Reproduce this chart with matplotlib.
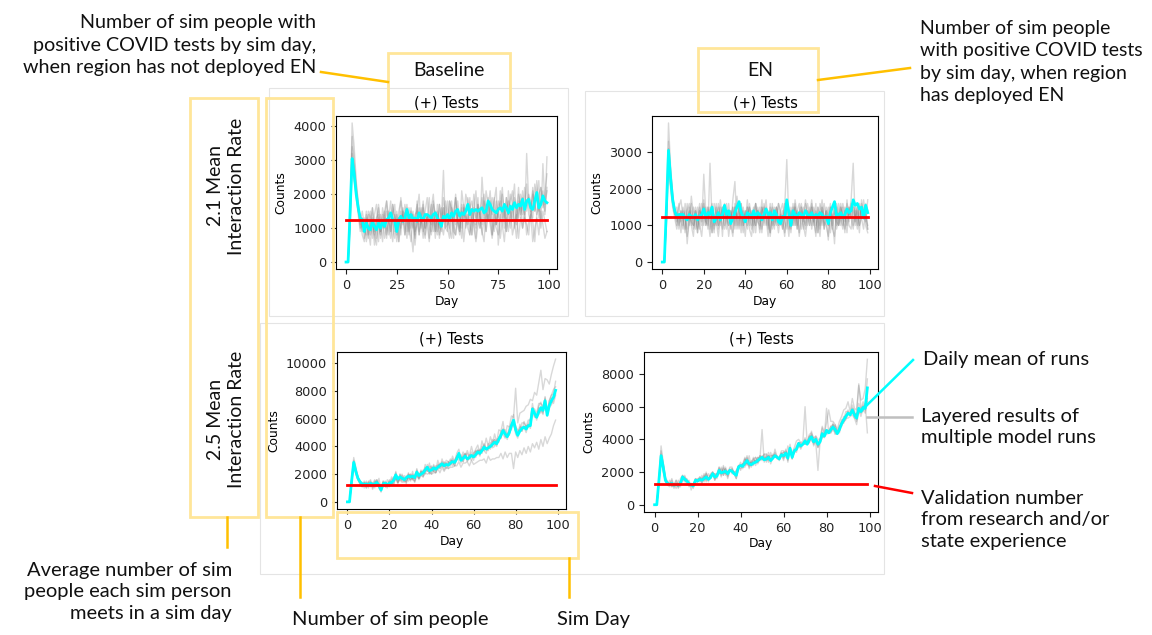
import matplotlib
matplotlib.use("Agg")
import matplotlib.pyplot as plt
from matplotlib.patches import Rectangle
from matplotlib.lines import Line2D
from matplotlib.transforms import Affine2D

# ---------------- data ----------------
days = list(range(100))
validation = 1240  # validation number, positive tests per day

# daily mean of runs (counts)
mean_base_21 = [0, 0, 1500, 3050, 2600, 2000, 1600, 1300, 1250, 900,
                1150, 1000, 950, 1200, 1050, 950, 1150, 1000, 1200, 1050,
                1250, 1300, 1450, 1250, 1200, 900, 1250, 1350, 1200, 1300,
                1550, 1300, 1400, 1250, 1300, 1200, 1450, 1300, 1250, 1400,
                1400, 1350, 1300, 1400, 1450, 1300, 1200, 1050, 1350, 1300,
                1400, 1250, 1450, 1350, 1500, 1550, 1350, 1450, 1400, 1500,
                1700, 1400, 1550, 1500, 1550, 1500, 1550, 1600, 1450, 1500,
                1800, 1700, 1550, 1500, 1450, 1550, 1600, 1500, 1700, 1600,
                1450, 1650, 1550, 1750, 1600, 1700, 1650, 1850, 1550, 1800,
                1850, 1600, 1550, 1800, 2050, 1600, 1700, 1950, 1800, 1750]
mean_en_21 = [0, 0, 1500, 3050, 2300, 1700, 1400, 1250, 1300, 1300,
              1300, 1200, 1150, 1300, 1250, 1200, 1300, 1150, 1250, 1300,
              1450, 1200, 1350, 1300, 1500, 1100, 1200, 1350, 1150, 1300,
              1550, 1300, 1400, 1050, 1200, 1350, 1500, 1650, 1350, 1250,
              1100, 1350, 1300, 1200, 1400, 1250, 1350, 1300, 1150, 1300,
              1450, 1300, 1350, 1150, 1400, 1300, 1100, 1050, 1250, 1200,
              1700, 1350, 1000, 1400, 1300, 1250, 1350, 1300, 1250, 1400,
              1300, 1250, 1350, 1200, 1300, 1250, 1350, 1300, 1200, 1250,
              1050, 1350, 1500, 1650, 1250, 1300, 1350, 1200, 1300, 1450,
              1350, 1400, 1700, 1550, 1600, 1450, 1500, 1200, 1550, 1350]
mean_base_25 = [0, 0, 1500, 2850, 2200, 1700, 1450, 1300, 1250, 1300,
                1200, 1350, 1250, 1300, 1400, 1200, 850, 1300, 1350, 1250,
                1350, 1400, 1550, 1950, 1650, 1800, 1700, 1600, 1750, 1850,
                1800, 1850, 1750, 2150, 1900, 2000, 2100, 2300, 2500, 2250,
                2300, 2450, 2350, 2500, 2600, 2750, 2600, 2700, 2650, 2800,
                2900, 2850, 3100, 3500, 3000, 3150, 3300, 3100, 3200, 3350,
                3250, 3400, 3600, 3500, 3700, 3950, 3800, 3900, 4000, 4150,
                4300, 4200, 4500, 4800, 5150, 4900, 4700, 5000, 5500, 5900,
                5200, 4800, 5100, 5300, 5400, 5250, 5500, 5500, 6700, 6400,
                6100, 6500, 6800, 6600, 7300, 6250, 6950, 7300, 7550, 8050]
mean_en_25 = [0, 0, 1500, 3000, 2300, 1500, 1300, 1250, 1300, 1200,
              1250, 1200, 1300, 1700, 1550, 1450, 1300, 1200, 1150, 1500,
              1450, 1550, 1500, 1600, 1700, 1550, 1650, 1900, 1700, 1750,
              2100, 1950, 2000, 2050, 1900, 2100, 2050, 1900, 1800, 2300,
              2400, 2350, 2550, 2700, 2500, 2450, 2550, 2600, 2700, 2800,
              2900, 2750, 2800, 2900, 2700, 2850, 3000, 2900, 2800, 3050,
              3000, 3150, 2850, 3450, 2900, 3300, 3400, 3750, 3600, 3700,
              3900, 3700, 4000, 4150, 3850, 4000, 3700, 3850, 4350, 4200,
              4550, 4400, 4600, 4750, 4600, 4350, 4600, 4950, 5200, 5400,
              5600, 5500, 5800, 5500, 5300, 5900, 5700, 5950, 5900, 7150]

# individual model runs, in hundreds of counts
runs_base_21 = [
    [0, 0, 12, 41, 34, 24, 17, 13, 8, 6, 14, 9, 5, 16, 11, 7, 17, 12, 6, 15,
     18, 10, 7, 17, 13, 6, 11, 19, 14, 8, 16, 12, 9, 3, 13, 17, 8, 12, 18, 10,
     14, 7, 16, 20, 11, 8, 17, 13, 27, 10, 9, 18, 14, 7, 19, 12, 9, 21, 16, 10,
     13, 19, 8, 15, 21, 12, 10, 25, 16, 9, 19, 13, 8, 18, 22, 5, 12, 20, 15, 9,
     21, 13, 17, 23, 11, 18, 14, 21, 12, 32, 18, 13, 22, 15, 19, 24, 12, 29, 17, 21],
    [0, 0, 16, 34, 28, 21, 15, 10, 12, 7, 11, 14, 8, 12, 5, 13, 16, 9, 12, 15,
     8, 13, 18, 10, 7, 14, 6, 15, 11, 17, 12, 8, 16, 11, 7, 15, 20, 10, 16, 8,
     12, 19, 9, 14, 7, 17, 11, 9, 16, 12, 18, 10, 7, 15, 19, 11, 8, 16, 12, 20,
     17, 11, 8, 16, 13, 19, 10, 15, 20, 12, 16, 21, 12, 9, 18, 13, 21, 15, 10, 19,
     14, 20, 17, 10, 15, 22, 13, 19, 16, 23, 14, 12, 20, 15, 24, 13, 18, 21, 14, 22],
    [0, 0, 10, 30, 25, 19, 14, 9, 12, 10, 15, 7, 11, 13, 8, 12, 6, 14, 10, 13,
     7, 15, 11, 6, 14, 9, 13, 8, 16, 11, 7, 13, 10, 15, 9, 11, 16, 12, 7, 14,
     11, 6, 13, 17, 9, 14, 8, 12, 16, 10, 11, 14, 18, 9, 8, 15, 12, 7, 16, 13,
     10, 8, 15, 12, 7, 16, 13, 9, 6, 15, 12, 18, 8, 14, 11, 16, 7, 12, 15, 9,
     14, 10, 17, 12, 7, 15, 18, 10, 13, 11, 8, 15, 12, 6, 14, 17, 10, 15, 12, 9],
    [0, 0, 14, 37, 30, 23, 18, 12, 15, 11, 8, 15, 13, 7, 14, 17, 10, 8, 16, 12,
     18, 13, 9, 17, 11, 10, 15, 18, 12, 14, 17, 9, 15, 13, 8, 18, 11, 16, 9, 15,
     19, 12, 11, 18, 14, 9, 17, 12, 19, 14, 11, 18, 16, 12, 20, 13, 10, 17, 15, 12,
     19, 16, 13, 20, 11, 17, 14, 19, 13, 21, 17, 12, 19, 15, 11, 18, 16, 22, 13, 19,
     14, 18, 21, 16, 12, 20, 17, 14, 22, 15, 20, 18, 13, 23, 19, 15, 22, 16, 20, 26],
    [0, 0, 11, 28, 24, 20, 15, 14, 9, 13, 6, 10, 15, 11, 8, 5, 13, 9, 14, 7,
     11, 8, 14, 12, 9, 15, 6, 11, 14, 8, 13, 10, 6, 14, 5, 12, 8, 13, 10, 7,
     14, 11, 8, 13, 9, 15, 7, 11, 8, 13, 10, 7, 14, 11, 8, 13, 9, 15, 6, 12,
     14, 8, 13, 10, 6, 11, 15, 8, 13, 9, 14, 11, 7, 12, 10, 8, 14, 11, 6, 13,
     9, 15, 8, 11, 14, 7, 13, 10, 15, 8, 12, 14, 6, 10, 13, 8, 15, 11, 7, 9],
    [0, 0, 13, 32, 27, 21, 16, 11, 13, 9, 13, 8, 12, 16, 9, 13, 14, 7, 12, 10,
     15, 12, 9, 14, 17, 8, 13, 10, 15, 14, 9, 16, 12, 10, 14, 15, 9, 13, 17, 10,
     14, 12, 17, 9, 15, 13, 10, 16, 12, 18, 13, 10, 16, 14, 11, 18, 13, 10, 17, 14,
     11, 16, 18, 12, 10, 17, 14, 11, 18, 16, 12, 17, 14, 19, 11, 15, 18, 13, 17, 12,
     18, 15, 12, 19, 16, 13, 20, 16, 14, 18, 19, 15, 21, 17, 14, 20, 22, 18, 15, 31],
]
runs_en_21 = [
    [0, 0, 14, 38, 26, 19, 14, 10, 15, 17, 12, 8, 16, 10, 18, 13, 9, 12, 16, 10,
     24, 13, 9, 27, 11, 8, 15, 10, 17, 12, 14, 9, 16, 11, 15, 10, 18, 13, 8, 15,
     11, 17, 10, 14, 8, 16, 12, 15, 9, 13, 17, 11, 8, 15, 13, 10, 16, 12, 9, 15,
     28, 11, 8, 15, 10, 14, 16, 9, 12, 17, 13, 10, 15, 11, 16, 8, 13, 17, 11, 10,
     7, 15, 12, 5, 16, 13, 10, 15, 11, 16, 13, 17, 27, 11, 15, 10, 16, 13, 11, 17],
    [0, 0, 12, 33, 25, 18, 13, 15, 9, 14, 10, 14, 5, 12, 16, 10, 14, 8, 15, 12,
     17, 10, 15, 12, 8, 16, 13, 10, 15, 7, 16, 12, 14, 9, 17, 22, 10, 15, 12, 8,
     14, 10, 16, 12, 15, 8, 14, 11, 17, 10, 15, 13, 8, 16, 11, 15, 10, 14, 16, 11,
     9, 15, 12, 10, 17, 13, 8, 15, 11, 16, 10, 13, 17, 11, 8, 15, 13, 10, 16, 12,
     15, 8, 13, 16, 11, 10, 15, 13, 8, 17, 11, 16, 10, 15, 13, 8, 17, 12, 16, 14],
    [0, 0, 11, 29, 23, 17, 15, 11, 13, 8, 14, 12, 9, 15, 10, 7, 14, 12, 9, 16,
     10, 15, 12, 7, 14, 10, 16, 9, 12, 15, 10, 14, 7, 12, 15, 9, 14, 10, 16, 12,
     7, 15, 12, 9, 14, 10, 15, 12, 8, 16, 12, 7, 14, 10, 15, 12, 8, 13, 11, 7,
     15, 12, 9, 16, 10, 14, 7, 12, 15, 9, 14, 10, 16, 12, 7, 15, 10, 14, 9, 12,
     6, 14, 10, 15, 9, 12, 16, 10, 14, 8, 15, 12, 9, 14, 10, 16, 12, 9, 15, 9],
    [0, 0, 13, 27, 21, 16, 13, 12, 16, 11, 9, 16, 12, 14, 10, 15, 12, 8, 14, 11,
     16, 11, 15, 9, 14, 12, 10, 16, 13, 9, 15, 12, 10, 14, 8, 16, 12, 15, 10, 14,
     12, 9, 15, 13, 10, 16, 12, 8, 15, 12, 14, 10, 16, 9, 12, 15, 13, 10, 12, 16,
     13, 9, 15, 12, 16, 10, 13, 15, 9, 12, 16, 13, 10, 15, 12, 8, 16, 13, 10, 15,
     12, 16, 9, 13, 15, 10, 12, 16, 13, 10, 15, 12, 16, 13, 9, 15, 12, 17, 13, 10],
    [0, 0, 10, 25, 20, 15, 12, 9, 13, 11, 15, 12, 7, 11, 14, 9, 12, 15, 10, 7,
     14, 10, 12, 15, 8, 13, 11, 7, 12, 15, 9, 12, 14, 10, 7, 15, 12, 9, 14, 10,
     12, 15, 9, 7, 12, 10, 14, 9, 15, 12, 10, 14, 7, 12, 9, 15, 10, 12, 14, 8,
     12, 7, 14, 10, 15, 9, 12, 14, 10, 7, 12, 15, 9, 13, 10, 12, 7, 15, 9, 14,
     10, 12, 9, 7, 14, 10, 15, 12, 9, 14, 10, 9, 15, 12, 14, 10, 12, 15, 10, 8],
    [0, 0, 13, 31, 24, 18, 14, 13, 10, 14, 12, 9, 14, 16, 11, 10, 15, 9, 14, 12,
     15, 11, 10, 14, 16, 9, 12, 15, 10, 14, 12, 16, 10, 14, 12, 15, 9, 12, 16, 10,
     14, 12, 15, 10, 14, 16, 11, 10, 14, 15, 12, 9, 15, 13, 10, 12, 16, 14, 9, 12,
     15, 13, 10, 12, 15, 9, 14, 16, 12, 10, 14, 12, 15, 10, 14, 12, 9, 15, 12, 14,
     10, 15, 12, 14, 10, 16, 12, 9, 15, 14, 12, 15, 14, 10, 16, 12, 15, 14, 12, 9],
]
runs_base_25 = [
    [0, 0, 16, 32, 25, 18, 15, 11, 15, 10, 14, 16, 10, 15, 11, 17, 9, 15, 11, 16,
     13, 18, 12, 22, 14, 20, 15, 19, 13, 21, 16, 22, 15, 24, 17, 23, 19, 27, 22, 28,
     21, 27, 23, 30, 24, 31, 26, 30, 29, 27, 33, 29, 35, 38, 30, 36, 32, 37, 33, 40,
     34, 38, 41, 35, 44, 38, 46, 40, 47, 42, 49, 43, 52, 51, 58, 47, 55, 54, 62, 61,
     82, 57, 64, 65, 66, 69, 70, 74, 73, 79, 77, 86, 95, 81, 89, 88, 85, 92, 98, 103],
    [0, 0, 14, 30, 24, 18, 14, 14, 10, 14, 11, 15, 9, 14, 16, 10, 8, 13, 15, 12,
     11, 16, 18, 17, 13, 18, 20, 14, 19, 15, 20, 16, 15, 21, 17, 22, 18, 23, 25, 20,
     25, 22, 21, 27, 24, 29, 23, 28, 24, 30, 29, 26, 31, 34, 28, 33, 35, 29, 32, 36,
     32, 36, 38, 33, 40, 37, 35, 42, 38, 43, 45, 40, 47, 46, 53, 49, 45, 52, 52, 58,
     49, 46, 56, 51, 58, 54, 59, 59, 71, 62, 61, 69, 72, 63, 76, 65, 73, 77, 81, 83],
    [0, 0, 13, 27, 21, 16, 13, 11, 14, 10, 15, 11, 14, 10, 16, 12, 7, 15, 11, 10,
     15, 12, 17, 17, 18, 15, 19, 16, 14, 20, 19, 16, 20, 19, 17, 20, 23, 20, 27, 22,
     20, 26, 21, 25, 28, 25, 29, 24, 28, 31, 26, 30, 33, 30, 34, 29, 33, 35, 32, 30,
     35, 37, 34, 38, 35, 41, 38, 37, 43, 39, 40, 44, 43, 50, 49, 46, 49, 51, 57, 57,
     55, 49, 54, 54, 53, 55, 55, 56, 64, 65, 59, 68, 64, 69, 70, 65, 69, 75, 71, 77],
    [0, 0, 15, 29, 23, 18, 15, 13, 12, 15, 10, 14, 13, 16, 12, 13, 9, 14, 13, 11,
     16, 13, 17, 21, 14, 20, 16, 17, 17, 20, 16, 20, 17, 23, 19, 22, 21, 25, 22, 25,
     26, 22, 26, 26, 27, 27, 28, 28, 29, 26, 31, 28, 33, 35, 32, 32, 35, 31, 34, 34,
     30, 36, 37, 37, 37, 42, 39, 39, 40, 45, 41, 45, 46, 51, 52, 52, 48, 54, 56, 63,
     54, 52, 51, 57, 57, 54, 56, 60, 68, 67, 64, 71, 71, 69, 75, 64, 73, 77, 78, 87],
    [0, 0, 16, 28, 22, 17, 14, 11, 14, 11, 14, 11, 12, 13, 14, 11, 10, 11, 14, 13,
     14, 13, 16, 16, 17, 17, 17, 16, 17, 17, 20, 17, 17, 20, 20, 19, 22, 22, 25, 21,
     25, 22, 25, 24, 27, 26, 26, 27, 28, 27, 30, 26, 32, 33, 31, 29, 34, 30, 31, 33,
     33, 32, 37, 34, 38, 37, 39, 39, 40, 40, 45, 41, 46, 46, 51, 49, 48, 48, 55, 55,
     52, 48, 51, 51, 54, 50, 56, 53, 65, 61, 61, 63, 67, 64, 71, 62, 68, 70, 74, 78],
    [0, 0, 14, 26, 20, 16, 13, 11, 13, 12, 12, 12, 13, 11, 15, 10, 8, 14, 11, 12,
     11, 14, 13, 17, 14, 17, 14, 15, 15, 18, 15, 18, 14, 19, 16, 19, 18, 21, 20, 21,
     20, 21, 21, 24, 21, 25, 22, 25, 24, 25, 25, 26, 26, 29, 25, 28, 28, 29, 26, 30,
     27, 28, 29, 30, 30, 31, 28, 33, 30, 31, 31, 32, 32, 35, 31, 36, 32, 35, 35, 24,
     36, 32, 37, 34, 39, 35, 40, 36, 42, 39, 43, 38, 45, 40, 47, 42, 46, 49, 55, 59],
]
runs_en_25 = [
    [0, 0, 16, 36, 26, 17, 14, 12, 16, 11, 15, 10, 16, 18, 15, 16, 13, 12, 12, 15,
     15, 17, 16, 16, 20, 14, 19, 20, 17, 19, 23, 18, 24, 19, 19, 23, 23, 19, 18, 24,
     24, 25, 29, 24, 30, 23, 28, 29, 27, 30, 29, 31, 31, 26, 32, 28, 34, 29, 29, 33,
     33, 29, 36, 32, 32, 35, 39, 40, 38, 39, 60, 37, 43, 44, 41, 42, 40, 40, 48, 44,
     50, 58, 51, 51, 49, 46, 51, 54, 58, 59, 63, 57, 65, 59, 58, 73, 64, 65, 71, 89],
    [0, 0, 14, 31, 24, 16, 12, 15, 11, 12, 12, 11, 11, 17, 17, 15, 11, 12, 12, 15,
     16, 16, 13, 19, 15, 16, 18, 19, 15, 18, 19, 23, 18, 22, 16, 21, 22, 19, 16, 23,
     24, 23, 23, 29, 22, 27, 24, 29, 25, 28, 29, 27, 28, 32, 25, 29, 31, 28, 28, 31,
     27, 34, 26, 37, 29, 32, 34, 38, 37, 37, 40, 37, 38, 45, 37, 42, 35, 39, 42, 41,
     46, 44, 44, 50, 44, 43, 47, 52, 52, 57, 57, 55, 59, 58, 51, 62, 58, 63, 59, 66],
    [0, 0, 15, 29, 22, 15, 12, 11, 15, 10, 13, 12, 12, 17, 16, 12, 15, 9, 13, 15,
     15, 14, 18, 14, 19, 16, 17, 19, 19, 18, 22, 17, 23, 18, 21, 21, 20, 20, 21, 23,
     24, 24, 28, 25, 25, 26, 29, 24, 29, 28, 46, 26, 31, 27, 30, 30, 30, 29, 28, 31,
     32, 33, 31, 32, 29, 33, 34, 35, 36, 37, 38, 38, 42, 39, 38, 38, 21, 39, 44, 43,
     46, 45, 48, 45, 49, 44, 48, 48, 51, 52, 56, 55, 58, 53, 56, 56, 57, 57, 62, 44],
    [0, 0, 14, 27, 21, 14, 13, 13, 12, 13, 10, 15, 12, 18, 15, 15, 12, 13, 10, 16,
     15, 15, 15, 18, 14, 19, 16, 20, 15, 19, 19, 22, 18, 23, 17, 21, 21, 20, 20, 24,
     21, 25, 25, 30, 24, 25, 26, 27, 26, 30, 27, 31, 26, 30, 27, 31, 30, 29, 28, 32,
     28, 32, 27, 35, 28, 33, 32, 38, 34, 37, 37, 37, 38, 42, 36, 39, 35, 38, 41, 42,
     43, 44, 44, 48, 43, 44, 44, 50, 50, 53, 53, 54, 55, 53, 49, 58, 54, 59, 56, 63],
    [0, 0, 16, 33, 25, 16, 14, 12, 13, 12, 15, 11, 14, 14, 18, 14, 13, 12, 13, 13,
     14, 16, 16, 15, 19, 15, 18, 19, 19, 16, 23, 19, 22, 19, 20, 21, 22, 19, 20, 23,
     26, 22, 28, 25, 27, 24, 28, 26, 29, 27, 30, 28, 29, 29, 28, 28, 32, 29, 29, 31,
     32, 31, 31, 35, 31, 33, 36, 38, 38, 37, 41, 37, 42, 42, 41, 40, 39, 39, 47, 42,
     59, 44, 48, 49, 48, 44, 48, 50, 54, 54, 58, 55, 61, 56, 55, 74, 59, 60, 61, 77],
    [0, 0, 13, 28, 20, 15, 13, 13, 11, 13, 12, 13, 13, 17, 14, 15, 12, 13, 12, 16,
     14, 17, 13, 17, 16, 16, 17, 20, 16, 19, 20, 20, 19, 22, 18, 22, 19, 19, 16, 23,
     22, 25, 24, 28, 23, 26, 25, 27, 26, 29, 28, 29, 27, 30, 27, 30, 29, 30, 27, 31,
     29, 32, 28, 35, 28, 34, 33, 38, 35, 38, 37, 38, 39, 43, 38, 41, 36, 40, 43, 43,
     44, 45, 45, 49, 45, 45, 45, 51, 51, 55, 55, 56, 56, 56, 52, 59, 56, 61, 58, 65],
]

ticks_2000 = [0, 2000, 4000, 6000, 8000, 10000]

# ---------------- figure ----------------
W, H = 1152, 635
fig = plt.figure(figsize=(W / 100, H / 100), dpi=100)
# pixel coordinates, origin top-left
pix = Affine2D().scale(1 / W, -1 / H).translate(0, 1) + fig.transFigure


def box(x0, y0, x1, y1):
    return [x0 / W, 1 - y1 / H, (x1 - x0) / W, (y1 - y0) / H]


def panel(ax, runs, mean, xticks, yticks):
    for r in runs:
        ax.plot(days, [v * 100 for v in r], color="gray", alpha=0.3, lw=1)
    ax.plot(days, mean, color="#00FFFF", lw=2)
    ax.plot(days, [validation] * len(days), color="red", lw=2)
    ax.set_title("(+) Tests", fontsize=10.5)
    ax.set_xlabel("Day", fontsize=8.8, labelpad=2)
    ax.set_ylabel("Counts", fontsize=8.8)
    ax.set_xticks(xticks)
    ax.set_yticks(yticks)
    ax.tick_params(labelsize=9.3, colors="#222222")


# faint screenshot frames
for x0, y0, x1, y1 in [(269, 88, 568, 316), (585, 91, 884, 316), (260, 323, 884, 574)]:
    fig.add_artist(Rectangle((x0, y0), x1 - x0, y1 - y0, transform=pix, fill=False,
                             ec="#E4E4E4", lw=0.8, zorder=-1))

ax1 = fig.add_axes(box(336, 116, 557, 269))
ax2 = fig.add_axes(box(652, 116, 878, 269))
ax3 = fig.add_axes(box(337, 352, 566, 509))
ax4 = fig.add_axes(box(644, 352, 878, 512))

panel(ax1, runs_base_21, mean_base_21, [0, 25, 50, 75, 100], [0, 1000, 2000, 3000, 4000])
panel(ax2, runs_en_21, mean_en_21, [0, 20, 40, 60, 80, 100], [0, 1000, 2000, 3000])
panel(ax3, runs_base_25, mean_base_25, [0, 20, 40, 60, 80, 100], ticks_2000)
panel(ax4, runs_en_25, mean_en_25, [0, 20, 40, 60, 80, 100], ticks_2000[:5])

# yellow highlight boxes
ybox = "#FFE699"
for x0, y0, x1, y1 in [(388, 53, 510, 111), (698, 48, 818, 112), (190, 98, 258, 517),
                       (266, 98, 333, 517), (337, 512, 578, 558)]:
    fig.add_artist(Rectangle((x0, y0), x1 - x0, y1 - y0, transform=pix, fill=False,
                             ec=ybox, lw=2, zorder=5))

# connectors
gold = "#FFC000"
for xs, ys, c in [([321, 388], [72, 82], gold), ([818, 910], [80, 68], gold),
                  ([227, 227], [517, 547], gold), ([300, 300], [517, 597], gold),
                  ([569, 569], [558, 597], gold),
                  ([913, 862], [360, 410], "#00FFFF"), ([867, 912], [417, 417], "#BFBFBF"),
                  ([875, 912], [486, 493], "red")]:
    fig.add_artist(Line2D(xs, ys, transform=pix, color=c, lw=1.8, zorder=6))

font = "Lato"
tkw = dict(transform=pix, family=font, color="#111111", zorder=7)
fig.text(449, 71, "Baseline", ha="center", va="center", fontsize=14, **tkw)
fig.text(760, 71, "EN", ha="center", va="center", fontsize=14, **tkw)
fig.text(226, 186, "2.1 Mean\nInteraction Rate", rotation=90, ha="center", va="center",
         multialignment="center", fontsize=14, linespacing=1.3, **tkw)
fig.text(226, 419, "2.5 Mean\nInteraction Rate", rotation=90, ha="center", va="center",
         multialignment="center", fontsize=14, linespacing=1.3, **tkw)

fig.text(316, 45, "Number of sim people with\npositive COVID tests by sim day,\nwhen region has not deployed EN",
         ha="right", va="center", multialignment="right", fontsize=14.2, linespacing=1.38, **tkw)
fig.text(920, 62, "Number of sim people\nwith positive COVID tests\nby sim day, when region\nhas deployed EN",
         ha="left", va="center", fontsize=14, linespacing=1.4, **tkw)
fig.text(232, 592, "Average number of sim\npeople each sim person\nmeets in a sim day",
         ha="right", va="center", multialignment="right", fontsize=14.5, linespacing=1.3, **tkw)
fig.text(292, 620, "Number of sim people", ha="left", va="center", fontsize=14.5, **tkw)
fig.text(557, 620, "Sim Day", ha="left", va="center", fontsize=14.5, **tkw)
fig.text(923, 360, "Daily mean of runs", ha="left", va="center", fontsize=14.5, **tkw)
fig.text(921, 427, "Layered results of\nmultiple model runs", ha="left", va="center",
         fontsize=14.5, linespacing=1.3, **tkw)
fig.text(921, 520, "Validation number\nfrom research and/or\nstate experience", ha="left",
         va="center", fontsize=14.5, linespacing=1.3, **tkw)

fig.savefig("out.png", dpi=100)
